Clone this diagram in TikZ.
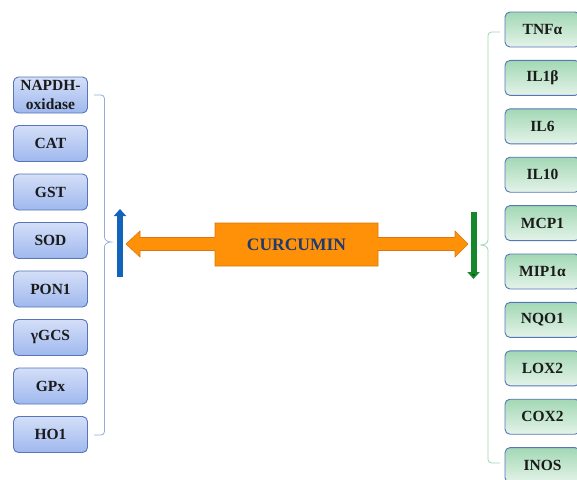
\documentclass[tikz,border=0pt]{standalone}
\usepackage{fontspec}
\setmainfont{Liberation Serif}
\usetikzlibrary{arrows.meta}
\definecolor{lbtop}{HTML}{D4DFF8}
\definecolor{lbbot}{HTML}{9FB8EE}
\definecolor{rgtop}{HTML}{A2D8B4}
\definecolor{rgbot}{HTML}{E4F3E9}
\definecolor{boxborder}{HTML}{5676B8}
\definecolor{lbrace}{HTML}{93ADDB}
\definecolor{rbrace}{HTML}{9FD5B2}
\definecolor{orangefill}{HTML}{FF9108}
\definecolor{orangeedge}{HTML}{D9780C}
\definecolor{curtext}{HTML}{1F3A6E}
\definecolor{upblue}{HTML}{1263BA}
\definecolor{downgreen}{HTML}{16882C}
\definecolor{txt}{HTML}{1A1A1A}
\tikzset{
  leftbox/.style={draw=boxborder, line width=0.9pt, rounded corners=5pt,
    top color=lbtop, bottom color=lbbot, minimum width=74pt, minimum height=36pt,
    inner sep=0pt, align=center, font=\fontsize{15.5}{17}\selectfont\bfseries, text=txt},
  rightbox/.style={draw=boxborder, line width=0.9pt, rounded corners=5pt,
    top color=rgtop, bottom color=rgbot, minimum width=75pt, minimum height=35pt,
    inner sep=0pt, align=center, font=\fontsize{15.5}{17}\selectfont\bfseries, text=txt},
  bracel/.style={draw=lbrace, line width=0.8pt},
  bracer/.style={draw=rbrace, line width=0.8pt},
}
\begin{document}
\begin{tikzpicture}[x=1pt,y=-1pt]
\useasboundingbox (0,0) rectangle (577,479);
% left boxes
\foreach \t [count=\i from 0] in {{NAPDH-\\[2.5pt]oxidase},CAT,GST,SOD,PON1,{γGCS},GPx,HO1}{
  \node[leftbox] (l\i) at (50.5,95+48.5*\i) {\t};
}
% right boxes
\foreach \t [count=\i from 0] in {TNFα,IL1β,IL6,IL10,MCP1,MIP1α,NQO1,LOX2,COX2,INOS}{
  \node[rightbox] (r\i) at (542.5,29.5+48.4*\i) {\t};
}
% left brace
\coordinate (lbt) at (94,95);
\coordinate (lbb) at (94,435);
\coordinate (lbm) at (111,242);
\draw[bracel] (lbt) -- (101,95) to[out=0,in=90] (104.5,98.5) -- (104.5,237)
  to[out=-90,in=180] (lbm) to[out=180,in=90] (104.5,247) -- (104.5,431.5)
  to[out=-90,in=0] (101,435) -- (lbb);
% right brace
\coordinate (rbt) at (500,32);
\coordinate (rbb) at (500,463);
\coordinate (rbm) at (480,245);
\draw[bracer] (rbt) -- (491.5,32) to[out=180,in=90] (488,35.5) -- (488,240)
  to[out=-90,in=0] (rbm) to[out=0,in=90] (488,250) -- (488,459.5)
  to[out=-90,in=180] (491.5,463) -- (rbb);
% orange double arrow
\draw[fill=orangefill, draw=orangeedge, line width=0.6pt, line join=miter]
  (126,244) -- (140,231) -- (140,237.5) -- (215,237.5) -- (215,223) -- (378,223)
  -- (378,237.5) -- (455,237.5) -- (455,231) -- (468,244) -- (455,257)
  -- (455,250.5) -- (378,250.5) -- (378,266) -- (215,266) -- (215,250.5)
  -- (140,250.5) -- (140,257) -- cycle;
\node[font=\fontsize{17.5}{17}\selectfont\bfseries, text=curtext] (cur) at (296.5,244.5) {CURCUMIN};
% up / down arrows
\coordinate (ua) at (120,277);
\coordinate (ub) at (120,209);
\draw[upblue, line width=6pt, -{Triangle[width=12pt,length=7pt]}] (ua) -- (ub);
\coordinate (da) at (473.5,212);
\coordinate (db) at (473.5,279);
\draw[downgreen, line width=6pt, -{Triangle[width=12pt,length=7pt,fill=downgreen!60!black]}] (da) -- (db);
\end{tikzpicture}
\end{document}
